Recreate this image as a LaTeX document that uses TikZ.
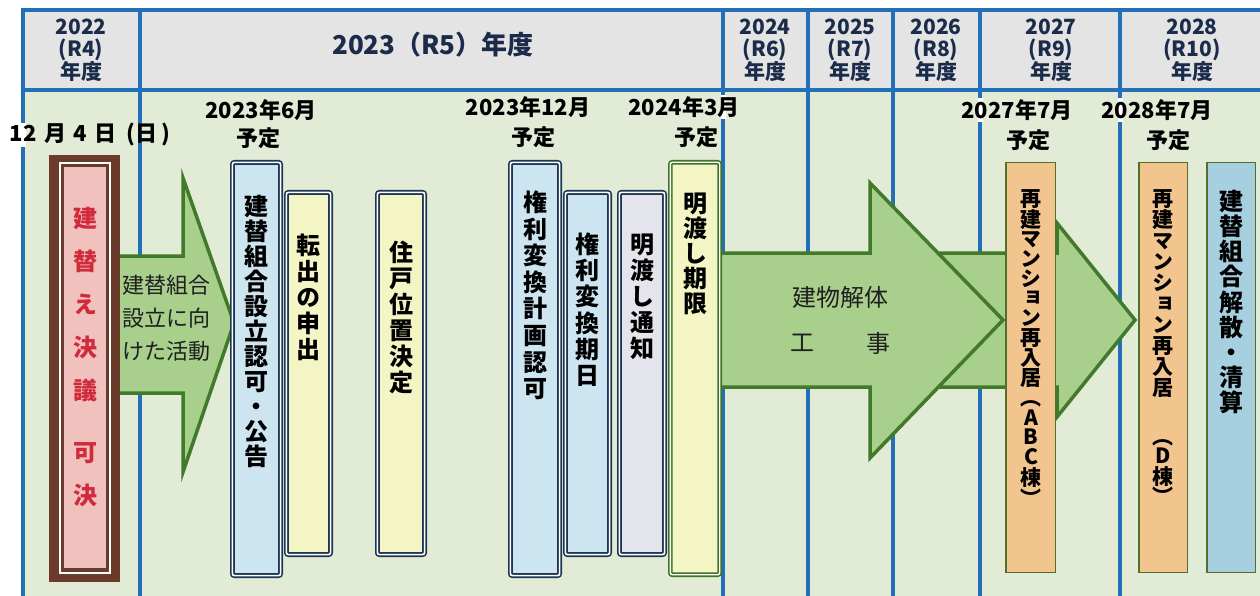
\documentclass[tikz,border=0pt]{standalone}
\usepackage{fontspec}
\setmainfont{Noto Sans CJK JP}
\newfontfamily\vfont[RawFeature=+vert]{Noto Sans CJK JP}
\definecolor{gridblue}{HTML}{2470B8}
\definecolor{hdrgray}{HTML}{E4E4E4}
\definecolor{bodygreen}{HTML}{E1EBD5}
\definecolor{navyc}{HTML}{1D3654}
\definecolor{lblue}{HTML}{CCE5F0}
\definecolor{lyellow}{HTML}{F3F6C4}
\definecolor{lavender}{HTML}{E4E4EC}
\definecolor{greenb}{HTML}{3F7326}
\definecolor{arrowfill}{HTML}{A8CF8C}
\definecolor{arrowgreen}{HTML}{417A2B}
\definecolor{orangef}{HTML}{F2C48E}
\definecolor{oliveb}{HTML}{51702C}
\definecolor{steelb}{HTML}{A6CFE0}
\definecolor{brownc}{HTML}{6A3B2B}
\definecolor{pinkc}{HTML}{F1C2BD}
\definecolor{redtext}{HTML}{D12A3C}
\definecolor{hdrnavy}{HTML}{1B2C4B}
\definecolor{inktext}{HTML}{1F1F1F}
\makeatletter
\newcommand\vt[2]{\vbox{\offinterlineskip\@tfor\vt@c:=#2\do{\hbox to 40pt{\hss\vrule width 0pt height .84\dimexpr#1\relax depth .16\dimexpr#1\relax\vt@c\hss}}}}
\makeatother
% box node: name, style, x1, y1, x2, y2 (outer edges), inset
\newcommand\bx[7]{\node[#2, minimum width={(#5)-(#3)-2*(#7)}, minimum height={(#6)-(#4)-2*(#7)}, inner sep=0pt, outer sep=0pt] (#1) at ({((#3)+(#5))/2},{((#4)+(#6))/2}) {};}
\tikzset{
  gridline/.style={draw=gridblue, line width=4.5pt},
  dbox/.style={draw=navyc, double=white, line width=1.6pt, double distance=1.6pt, rounded corners=2pt},
  gbox/.style={draw=greenb, double=white, line width=1.6pt, double distance=1.4pt, rounded corners=2pt},
  obox/.style={draw=oliveb, line width=1.5pt},
  barrow/.style={draw=arrowgreen, fill=arrowfill, line width=3.5pt, line join=miter},
  vtxt/.style={inner sep=0pt, anchor=north, text=black, font=\vfont\bfseries\fontsize{24}{25}\selectfont},
  vsmall/.style={inner sep=0pt, anchor=north, text=black, font=\vfont\bfseries\fontsize{21}{21}\selectfont},
  hdr/.style={text=hdrnavy, align=center, font=\bfseries\fontsize{21}{22.7}\selectfont, inner sep=0pt},
  atext/.style={text=inktext, inner sep=0pt, font=\fontsize{22}{33}\selectfont},
  lbl/.style={text=black, inner sep=0pt, font=\bfseries\fontsize{22}{24}\selectfont},
  halo/.style={fill=white, draw=none},
}
\begin{document}
\begin{tikzpicture}[x=1pt,y=-1pt]
\useasboundingbox (0,0) rectangle (1260,596);
\fill[white] (0,0) rectangle (1260,596);
% backgrounds
\fill[hdrgray] (23,10) rectangle (1262,90);
\fill[bodygreen] (23,90) rectangle (1262,598);
% grid
\draw[gridline] (23,600) -- (23,10) -- (1264,10);
\draw[gridline] (23,90) -- (1264,90);
\foreach \x in {140,723,808,893,980,1120} \draw[gridline] (\x,10) -- (\x,600);
% white gaps where date labels cross the grid
\fill[halo] (20.5,123) rectangle (25.5,147);
\fill[halo] (720.5,95) rectangle (725.5,119);
\fill[halo] (977.5,98) rectangle (982.5,122);
\fill[halo] (1117.5,98) rectangle (1122.5,122);
% header texts
\node[hdr] (h22) at (81,50) {2022\\(R4)\\年度};
\node[hdr, font=\bfseries\fontsize{26}{28}\selectfont] (h23) at (433,45) {2023（R5）年度};
\node[hdr] (h24) at (765,50) {2024\\(R6)\\年度};
\node[hdr] (h25) at (850,50) {2025\\(R7)\\年度};
\node[hdr] (h26) at (936,50) {2026\\(R8)\\年度};
\node[hdr] (h27) at (1051,50) {2027\\(R9)\\年度};
\node[hdr] (h28) at (1192,50) {2028\\(R10)\\年度};
% arrows
\draw[barrow] (112,256) -- (183,256) -- (183,178) -- (234,323) -- (183,472) -- (183,393) -- (112,393) -- cycle;
\draw[barrow] (930,253) -- (1057,253) -- (1057,223) -- (1135,320) -- (1057,417) -- (1057,387) -- (930,387) -- cycle;
\draw[barrow] (712,253) -- (870,253) -- (870,183) -- (1003,320) -- (870,458) -- (870,387) -- (712,387) -- cycle;
% red box
\bx{rbox}{fill=brownc}{49}{155}{120}{582}{0}
\draw[white, line width=2pt] (59.5,163) rectangle (110,572.5);
\draw[brownc, line width=3pt, fill=pinkc] (62.5,166) rectangle (107,569.5);
% boxes
\bx{b1}{dbox, fill=lblue}{230}{160}{283}{578}{2.4}
\bx{b2}{dbox, fill=lyellow}{284}{190}{333}{557}{2.4}
\bx{b3}{dbox, fill=lyellow}{375}{190}{427}{557}{2.4}
\bx{b4}{dbox, fill=lblue}{508}{160}{562}{578}{2.4}
\bx{b5}{dbox, fill=lblue}{563}{190}{612}{557}{2.4}
\bx{b6}{dbox, fill=lavender}{617}{190}{667}{557}{2.4}
\bx{b7}{gbox, fill=lyellow}{668}{160}{722}{577}{2.3}
\bx{b8}{obox, fill=orangef}{1005}{162}{1056}{573}{0.75}
\bx{b9}{obox, fill=orangef}{1138}{162}{1188}{573}{0.75}
\bx{b10}{obox, fill=steelb}{1206}{162}{1256}{573}{0.75}
% box texts
\node[vtxt, text=redtext] (r1) at (85,191) {\vt{43pt}{建替え決議}};
\node[vtxt, text=redtext] (r2) at (85,425) {\vt{43pt}{可決}};
\node[vtxt] (t1) at (256.5,194) {\vt{25pt}{建替組合設立認可・公告}};
\node[vtxt] (t2) at (308,232) {\vt{26pt}{転出の申出}};
\node[vtxt] (t3) at (401,239) {\vt{26pt}{住戸位置決定}};
\node[vtxt] (t4) at (535,189) {\vt{26.6pt}{権利変換計画認可}};
\node[vtxt] (t5) at (587,231) {\vt{26.3pt}{権利変換期日}};
\node[vtxt] (t6) at (642,231) {\vt{26pt}{明渡し通知}};
\node[vtxt] (t7) at (695,191) {\vt{25pt}{明渡し期限}};
\node[vsmall] (t8) at (1031,189) {\vt{19.7pt}{再建マンション再入居︵ABC棟︶}};
\node[vsmall] (t9) at (1163,189) {\vt{21pt}{再建マンション再入居}};
\node[vsmall] (t9b) at (1163,428) {\vt{19pt}{︵D棟︶}};
\node[vtxt] (t10) at (1231,189) {\vt{25.2pt}{建替組合解散・清算}};
% arrow texts
\node[atext, align=left, anchor=west] (a1) at (122,318) {建替組合\\設立に向\\けた活動};
\node[atext, font=\fontsize{24}{26}\selectfont] (a2) at (840,297) {建物解体};
\node[atext, font=\fontsize{24}{26}\selectfont] (a3) at (802,343) {工};
\node[atext, font=\fontsize{24}{26}\selectfont] (a4) at (878,343) {事};
% date labels
\node[lbl] (d0) at (90,135) {12\hspace{8pt}月\hspace{7pt}4\hspace{8pt}日\hspace{10pt}(日\hspace{4pt})};
\node[lbl] (d1) at (261,110) {2023年6月};
\node[lbl] (d1b) at (258,138) {予定};
\node[lbl] (d2) at (528,107) {2023年12月};
\node[lbl] (d2b) at (533,137) {予定};
\node[lbl] (d3) at (684,107) {2024年3月};
\node[lbl] (d3b) at (696,137) {予定};
\node[lbl] (d4) at (1017,110) {2027年7月};
\node[lbl] (d4b) at (1028,140) {予定};
\node[lbl] (d5) at (1157,110) {2028年7月};
\node[lbl] (d5b) at (1168,140) {予定};
\end{tikzpicture}
\end{document}
